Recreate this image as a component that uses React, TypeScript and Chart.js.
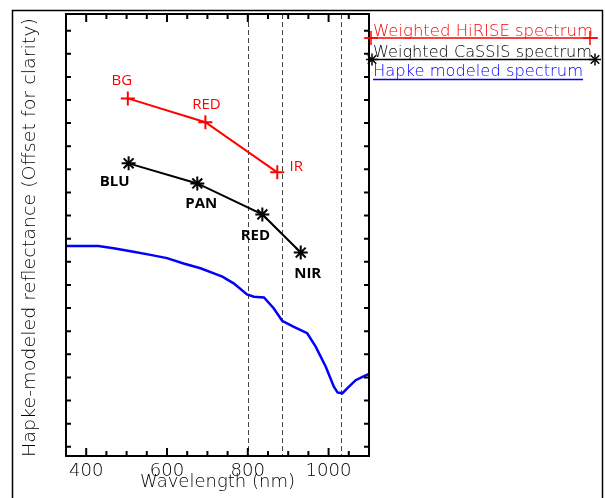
import { useEffect, useRef } from 'react';
import { Chart, registerables } from 'chart.js';

Chart.register(...registerables);

// ---- data ----
const hiriseBands = ['BG', 'RED', 'IR'];
const hiriseWavelengths = [503, 695, 873];
const hiriseValues = [15.07, 14.04, 11.87];

const cassisBands = ['BLU', 'PAN', 'RED', 'NIR'];
const cassisWavelengths = [505, 675, 836, 931];
const cassisValues = [12.26, 11.39, 10.05, 8.4];

const hapkeWavelengths = [350, 430, 468, 517, 559, 600, 641, 683, 716, 737, 765, 798, 815, 840, 864, 885, 914, 947, 968, 993, 1013, 1022, 1034, 1046, 1067, 1084, 1100];
const hapkeValues = [8.68, 8.68, 8.59, 8.44, 8.3, 8.16, 7.93, 7.72, 7.5, 7.36, 7.07, 6.59, 6.49, 6.46, 5.99, 5.45, 5.19, 4.91, 4.33, 3.46, 2.6, 2.35, 2.31, 2.53, 2.88, 3.02, 3.15];

const dashedWavelengths = [800, 885, 1030];
const xTickLabels = [400, 600, 800, 1000];
const xMinorStep = 50;
const yTickValues = [0, 1, 2, 3, 4, 5, 6, 7, 8, 9, 10, 11, 12, 13, 14, 15, 16, 17, 18];
const xMin = 350;
const xMax = 1100;
const yMin = -0.4;
const yMax = 18.72;

const legendLabels = ['Weighted HiRISE spectrum', 'Weighted CaSSIS spectrum', 'Hapke modeled spectrum'];
const xTitle = 'Wavelength (nm)';
const yTitle = 'Hapke-modeled reflectance (Offset for clarity)';

// ---- styles ----
const RED = '#ff0000';
const BLUE = '#0000ff';
const BLACK = '#000000';
const hiriseLabelOffsets = [[-6, -13], [1, -13], [19, -1]];
const cassisLabelOffsets = [[-14, 23], [4, 25], [-7, 26], [7, 25]];
const THIN_FONT = "'DejaVu Sans', 'Liberation Sans', sans-serif";

function fitText(ctx: CanvasRenderingContext2D, text: string, x: number, y: number, width: number, font: string, color: string, align: 'left' | 'center') {
  ctx.save();
  ctx.font = font;
  ctx.fillStyle = color;
  ctx.textBaseline = 'alphabetic';
  ctx.textAlign = 'left';
  const w = ctx.measureText(text).width;
  const s = width / w;
  ctx.translate(align === 'center' ? x - width / 2 : x, y);
  ctx.scale(s, 1);
  ctx.fillText(text, 0, 0);
  ctx.restore();
}

function drawCross(ctx: CanvasRenderingContext2D, x: number, y: number, r: number) {
  ctx.beginPath();
  ctx.moveTo(x - r, y); ctx.lineTo(x + r, y);
  ctx.moveTo(x, y - r); ctx.lineTo(x, y + r);
  ctx.stroke();
}

function drawStar(ctx: CanvasRenderingContext2D, x: number, y: number, r: number) {
  drawCross(ctx, x, y, r);
  const d = r * Math.SQRT1_2;
  ctx.beginPath();
  ctx.moveTo(x - d, y - d); ctx.lineTo(x + d, y + d);
  ctx.moveTo(x - d, y + d); ctx.lineTo(x + d, y - d);
  ctx.stroke();
}

const decorPlugin = {
  id: 'decor',
  beforeDatasetsDraw(chart: any) {
    const { ctx, chartArea: a, scales } = chart;
    const x = scales.x;
    ctx.save();
    ctx.strokeStyle = '#444';
    ctx.lineWidth = 1;
    ctx.setLineDash([5, 3]);
    for (const w of dashedWavelengths) {
      const px = Math.round(x.getPixelForValue(w)) + 0.5;
      ctx.beginPath();
      ctx.moveTo(px, a.top);
      ctx.lineTo(px, a.bottom);
      ctx.stroke();
    }
    ctx.restore();
  },
  afterDatasetsDraw(chart: any) {
    const { ctx, chartArea: a, scales } = chart;
    const x = scales.x;
    const y = scales.y;
    ctx.save();

    // band labels
    ctx.textAlign = 'center';
    ctx.textBaseline = 'alphabetic';
    ctx.font = "15px 'Open Sans', sans-serif";
    ctx.fillStyle = RED;
    hiriseBands.forEach((b, i) => {
      const px = x.getPixelForValue(hiriseWavelengths[i]);
      const py = y.getPixelForValue(hiriseValues[i]);
      ctx.fillText(b, px + hiriseLabelOffsets[i][0], py + hiriseLabelOffsets[i][1]);
    });
    ctx.font = "bold 15px 'Open Sans', sans-serif";
    ctx.fillStyle = BLACK;
    cassisBands.forEach((b, i) => {
      const px = x.getPixelForValue(cassisWavelengths[i]);
      const py = y.getPixelForValue(cassisValues[i]);
      ctx.fillText(b, px + cassisLabelOffsets[i][0], py + cassisLabelOffsets[i][1]);
    });

    // plot frame
    ctx.strokeStyle = BLACK;
    ctx.lineWidth = 2;
    ctx.strokeRect(a.left, a.top, a.right - a.left, a.bottom - a.top);

    // x ticks (bottom & top, inward)
    for (let w = xMin; w <= xMax; w += xMinorStep) {
      const px = x.getPixelForValue(w);
      const major = xTickLabels.includes(w);
      const len = major ? 8 : 5;
      ctx.beginPath();
      ctx.moveTo(px, a.bottom); ctx.lineTo(px, a.bottom - len);
      ctx.moveTo(px, a.top); ctx.lineTo(px, a.top + len);
      ctx.stroke();
    }
    // y ticks (left & right, inward)
    for (const v of yTickValues) {
      const py = y.getPixelForValue(v);
      ctx.beginPath();
      ctx.moveTo(a.left, py); ctx.lineTo(a.left + 5, py);
      ctx.moveTo(a.right, py); ctx.lineTo(a.right - 5, py);
      ctx.stroke();
    }

    // x tick labels
    for (const t of xTickLabels) {
      const px = x.getPixelForValue(t);
      const label = String(t);
      fitText(ctx, label, px, a.bottom + 20, label.length * 11.5, `300 18px ${THIN_FONT}`, BLACK, 'center');
    }

    // axis titles
    fitText(ctx, xTitle, (a.left + a.right) / 2, 487, 155, `300 18px ${THIN_FONT}`, BLACK, 'center');
    ctx.save();
    ctx.translate(35, 237.5);
    ctx.rotate(-Math.PI / 2);
    fitText(ctx, yTitle, 0, 0, 439, `300 18px ${THIN_FONT}`, BLACK, 'center');
    ctx.restore();

    // legend
    const lf = `300 15px ${THIN_FONT}`;
    fitText(ctx, legendLabels[0], 373, 36, 220, lf, RED, 'left');
    fitText(ctx, legendLabels[1], 373, 56.5, 219, lf, BLACK, 'left');
    fitText(ctx, legendLabels[2], 373, 75.5, 210, lf, BLUE, 'left');

    ctx.lineWidth = 1.5;
    ctx.strokeStyle = RED;
    ctx.beginPath(); ctx.moveTo(365, 38); ctx.lineTo(598, 38); ctx.stroke();
    drawCross(ctx, 371, 38, 7);
    drawCross(ctx, 590, 38, 7);

    ctx.strokeStyle = BLACK;
    ctx.beginPath(); ctx.moveTo(371, 59.5); ctx.lineTo(596, 59.5); ctx.stroke();
    drawStar(ctx, 372, 59.5, 6);
    drawStar(ctx, 595, 59.5, 6);

    ctx.strokeStyle = BLUE;
    ctx.beginPath(); ctx.moveTo(373, 79.5); ctx.lineTo(583, 79.5); ctx.stroke();

    // outer frame
    ctx.strokeStyle = BLACK;
    ctx.lineWidth = 1.5;
    ctx.strokeRect(12.5, 10.5, 590, 500);

    ctx.restore();
  },
};

export default function App() {
  const canvasRef = useRef<HTMLCanvasElement | null>(null);

  useEffect(() => {
    const canvas = canvasRef.current;
    if (!canvas) return;
    const chart = new Chart(canvas, {
      type: 'scatter',
      data: {
        datasets: [
          {
            label: legendLabels[2],
            data: hapkeWavelengths.map((w, i) => ({ x: w, y: hapkeValues[i] })),
            showLine: true,
            borderColor: BLUE,
            borderWidth: 2.5,
            pointRadius: 0,
            tension: 0,
          },
          {
            label: legendLabels[1],
            data: cassisWavelengths.map((w, i) => ({ x: w, y: cassisValues[i] })),
            showLine: true,
            borderColor: BLACK,
            backgroundColor: BLACK,
            borderWidth: 2,
            pointStyle: 'star',
            pointRadius: 7,
            pointBorderWidth: 2,
            pointBorderColor: BLACK,
          },
          {
            label: legendLabels[0],
            data: hiriseWavelengths.map((w, i) => ({ x: w, y: hiriseValues[i] })),
            showLine: true,
            borderColor: RED,
            backgroundColor: RED,
            borderWidth: 2,
            pointStyle: 'cross',
            pointRadius: 7,
            pointBorderWidth: 2,
            pointBorderColor: RED,
          },
        ],
      },
      options: {
        responsive: false,
        animation: false,
        events: [],
        layout: { padding: { left: 66, top: 14, right: 605 - 369, bottom: 498 - 456 } },
        scales: {
          x: { type: 'linear', min: xMin, max: xMax, display: false },
          y: { type: 'linear', min: yMin, max: yMax, display: false },
        },
        plugins: {
          legend: { display: false },
          tooltip: { enabled: false },
        },
      },
      plugins: [decorPlugin],
    });
    return () => chart.destroy();
  }, []);

  return (
    <div style={{ position: 'absolute', left: 0, top: 0, width: 605, height: 498, background: '#fff', overflow: 'hidden' }}>
      <canvas ref={canvasRef} width={605} height={498} style={{ width: 605, height: 498, display: 'block' }} />
    </div>
  );
}
